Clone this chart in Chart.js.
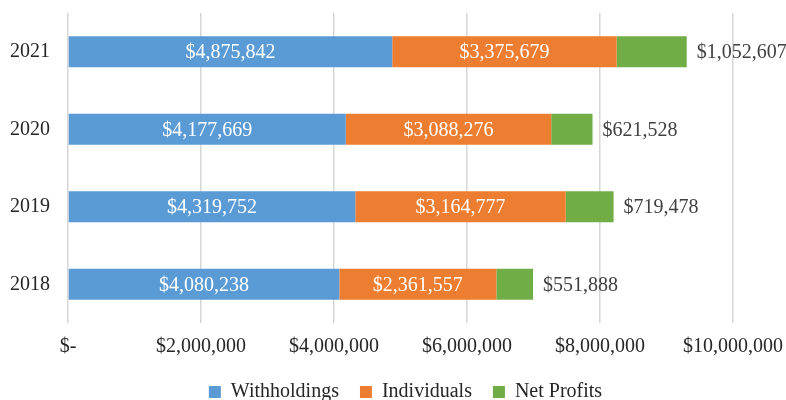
<!doctype html>
<html>
<head>
<meta charset="UTF-8">
<title>Revenue by Source</title>
<script src="https://cdn.jsdelivr.net/npm/chart.js"></script>
<style>
  html, body { margin: 0; padding: 0; background: #fff; overflow: hidden; }
  #wrap { width: 786px; height: 412px; }
</style>
</head>
<body>
<div id="wrap"><canvas id="chart" width="786" height="412"></canvas></div>
<script>
const years = ["2021", "2020", "2019", "2018"];
const withholdings = [4875842, 4177669, 4319752, 4080238];
const individuals = [3375679, 3088276, 3164777, 2361557];
const netProfits = [1052607, 621528, 719478, 551888];
const xTicks = [0, 2000000, 4000000, 6000000, 8000000, 10000000];

const money = (v) => (v === 0 ? "$-" : "$" + v.toLocaleString("en-US"));
const FONT = "'Liberation Serif', 'Times New Roman', serif";

// values drawn on the bars: inside for the first two series, right of the bar for the last
const barLabels = {
  id: "barLabels",
  afterDatasetsDraw(chart) {
    const ctx = chart.ctx;
    ctx.save();
    ctx.font = "20px " + FONT;
    ctx.textBaseline = "middle";
    chart.data.datasets.forEach((ds, i) => {
      const meta = chart.getDatasetMeta(i);
      meta.data.forEach((bar, j) => {
        const text = money(ds.data[j]);
        if (i < 2) {
          ctx.fillStyle = "#ffffff";
          ctx.textAlign = "center";
          ctx.fillText(text, (bar.x + bar.base) / 2, bar.y + 1);
        } else {
          ctx.fillStyle = "#404040";
          ctx.textAlign = "left";
          ctx.fillText(text, bar.x + 10, bar.y + 1);
        }
      });
    });
    ctx.restore();
  },
};

// legend in the original sits a bit right of centre
const shiftLegend = {
  id: "shiftLegend",
  afterLayout(chart) {
    if (chart.legend) {
      chart.legend.left += 34;
      chart.legend.right += 34;
    }
  },
};

new Chart("chart", {
  type: "bar",
  data: {
    labels: years,
    datasets: [
      { label: "Withholdings", data: withholdings, backgroundColor: "#5B9BD5" },
      { label: "Individuals", data: individuals, backgroundColor: "#ED7D31" },
      { label: "Net Profits", data: netProfits, backgroundColor: "#70AD47" },
    ],
  },
  options: {
    indexAxis: "y",
    responsive: false,
    animation: false,
    categoryPercentage: 0.8,
    barPercentage: 0.5,
    layout: { padding: { top: 13, left: 10, right: 53, bottom: 0 } },
    scales: {
      x: {
        stacked: true,
        min: 0,
        max: 10000000,
        afterBuildTicks: (axis) => {
          axis.ticks = xTicks.map((v) => ({ value: v }));
        },
        afterFit: (axis) => {
          axis.height = 38;
          axis.paddingLeft = 0;
          axis.paddingRight = 0;
        },
        grid: { color: "#d6d6d6", lineWidth: 1.5, drawTicks: false },
        border: { display: false },
        ticks: {
          padding: 12,
          color: "#262626",
          font: { family: FONT, size: 20 },
          maxRotation: 0,
          autoSkip: false,
          callback: (v) => money(v),
        },
      },
      y: {
        stacked: true,
        afterFit: (axis) => {
          axis.width = 58;
          axis.paddingTop = 0;
          axis.paddingBottom = 0;
        },
        grid: { display: false, drawTicks: false },
        border: { display: false },
        ticks: {
          padding: 18,
          color: "#262626",
          font: { family: FONT, size: 20 },
        },
      },
    },
    plugins: {
      legend: {
        position: "bottom",
        labels: {
          boxWidth: 12,
          boxHeight: 12,
          padding: 21,
          color: "#262626",
          font: { family: FONT, size: 20 },
        },
      },
      tooltip: { enabled: false },
    },
  },
  plugins: [barLabels, shiftLegend],
});
</script>
</body>
</html>
